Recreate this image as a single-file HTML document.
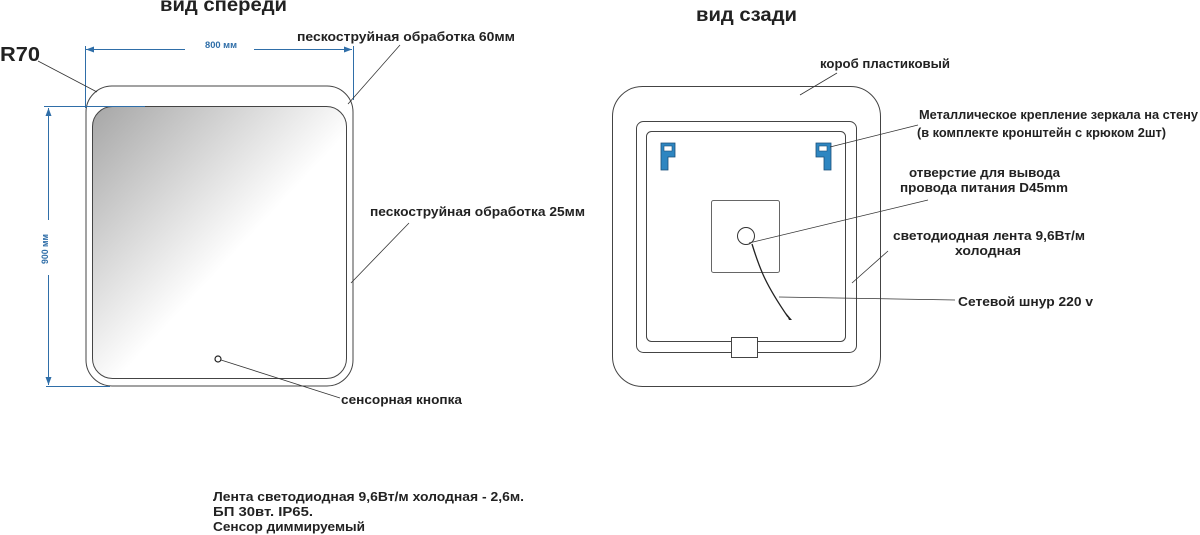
<!DOCTYPE html>
<html><head><meta charset="utf-8"><style>
html,body{margin:0;padding:0;background:#fff;width:1200px;height:535px;overflow:hidden}
svg{display:block}
text{font-family:"Liberation Sans",sans-serif;font-weight:bold;fill:#222}
</style></head><body>
<svg width="1200" height="535" viewBox="0 0 1200 535" xmlns="http://www.w3.org/2000/svg">
<defs>
<linearGradient id="g" x1="0" y1="0" x2="1" y2="1" gradientUnits="objectBoundingBox">
<stop offset="0" stop-color="#a6a6a6"/><stop offset="0.55" stop-color="#fff"/><stop offset="1" stop-color="#fff"/>
</linearGradient>
<marker id="ar" markerWidth="8" markerHeight="6" refX="8" refY="3" orient="auto"><path d="M0,0 L8,3 L0,6 z" fill="#2f6ea8"/></marker>
</defs>
<text x="160" y="11" font-size="19" textLength="127" lengthAdjust="spacingAndGlyphs">вид спереди</text>
<text x="696" y="21" font-size="19" textLength="101" lengthAdjust="spacingAndGlyphs">вид сзади</text>
<text x="0" y="61" font-size="20" textLength="40" lengthAdjust="spacingAndGlyphs">R70</text>

<rect x="86" y="86" width="267" height="300" rx="26" fill="#fff" stroke="#444" stroke-width="1"/>
<rect x="92.5" y="106.5" width="254" height="272" rx="20" fill="url(#g)" stroke="#444" stroke-width="1"/>
<circle cx="218" cy="359" r="3" fill="#fff" stroke="#222" stroke-width="1.2"/>
<g stroke="#2f6ea8" stroke-width="1" fill="none">
<line x1="85.5" y1="46" x2="85.5" y2="108"/>
<line x1="353.5" y1="46" x2="353.5" y2="100"/>
<line x1="86" y1="49.5" x2="185" y2="49.5"/>
<line x1="254" y1="49.5" x2="352" y2="49.5" marker-end="url(#ar)"/>
<line x1="44" y1="106.5" x2="145" y2="106.5"/>
<line x1="46" y1="386.5" x2="110" y2="386.5"/>
<line x1="48.5" y1="220" x2="48.5" y2="108" marker-end="url(#ar)"/>
<line x1="48.5" y1="275" x2="48.5" y2="385" marker-end="url(#ar)"/>
</g>
<path d="M86,49.5 l8,-3 v6z" fill="#2f6ea8"/>
<text x="205" y="48" font-size="9" style="fill:#2f6ea8" textLength="32" lengthAdjust="spacingAndGlyphs">800 мм</text>
<text transform="translate(48,264) rotate(-90)" font-size="9" style="fill:#2f6ea8" textLength="30" lengthAdjust="spacingAndGlyphs">900 мм</text>

<g stroke="#333" stroke-width="0.8">
<line x1="38" y1="61" x2="97" y2="92"/>
<line x1="400" y1="45" x2="348" y2="104"/>
<line x1="409" y1="223" x2="351" y2="283"/>
<line x1="221" y1="360" x2="340" y2="398"/>
</g>
<text x="297" y="41" font-size="13" textLength="218" lengthAdjust="spacingAndGlyphs">пескоструйная обработка 60мм</text>
<text x="370" y="216" font-size="13" textLength="215" lengthAdjust="spacingAndGlyphs">пескоструйная обработка 25мм</text>
<text x="341" y="404" font-size="13" textLength="121" lengthAdjust="spacingAndGlyphs">сенсорная кнопка</text>

<rect x="612.5" y="86.5" width="268" height="300" rx="30" fill="#fff" stroke="#444"/>
<rect x="636.5" y="121.5" width="220" height="231" rx="7" fill="none" stroke="#444"/>
<rect x="646.5" y="131.5" width="199" height="210" rx="5" fill="none" stroke="#444"/>
<rect x="711.5" y="200.5" width="68" height="72" rx="2" fill="#fff" stroke="#666"/>
<circle cx="746" cy="236" r="8.5" fill="#fff" stroke="#333"/>
<rect x="731.5" y="337.5" width="26" height="20" fill="#fff" stroke="#444"/>
<path d="M661,143 h14 v14 h-7 v13 h-7z" fill="#2e86c1" stroke="#1a4f78" stroke-width="0.8"/>
<rect x="664" y="146" width="8" height="5" fill="#fff" stroke="#1a4f78" stroke-width="0.6"/>
<path d="M816,143 h15 v27 h-7 v-13 h-8z" fill="#2e86c1" stroke="#1a4f78" stroke-width="0.8"/>
<rect x="819" y="146" width="8" height="5" fill="#fff" stroke="#1a4f78" stroke-width="0.6"/>
<path d="M752,244 C760,270 766,285 788,317" fill="none" stroke="#222" stroke-width="1.3"/>
<path d="M786,313 l6,7 l-3,0 z" fill="#222"/>
<g stroke="#333" stroke-width="0.8">
<line x1="837" y1="73" x2="800" y2="95"/>
<line x1="918" y1="125" x2="830" y2="147"/>
<line x1="928" y1="200" x2="749" y2="243"/>
<line x1="888" y1="251" x2="852" y2="283"/>
<line x1="955" y1="300" x2="779" y2="297"/>
</g>
<text x="820" y="68" font-size="13" textLength="130" lengthAdjust="spacingAndGlyphs">короб пластиковый</text>
<text x="919" y="119" font-size="13" textLength="279" lengthAdjust="spacingAndGlyphs">Металлическое крепление зеркала на стену</text>
<text x="917" y="137" font-size="13" textLength="249" lengthAdjust="spacingAndGlyphs">(в комплекте кронштейн с крюком 2шт)</text>
<text x="909" y="177" font-size="13" textLength="151" lengthAdjust="spacingAndGlyphs">отверстие для вывода</text>
<text x="900" y="192" font-size="13" textLength="168" lengthAdjust="spacingAndGlyphs">провода питания D45mm</text>
<text x="893" y="240" font-size="13" textLength="192" lengthAdjust="spacingAndGlyphs">светодиодная лента 9,6Вт/м</text>
<text x="955" y="255" font-size="13" textLength="66" lengthAdjust="spacingAndGlyphs">холодная</text>
<text x="958" y="306" font-size="13" textLength="135" lengthAdjust="spacingAndGlyphs">Сетевой шнур 220 v</text>

<text x="213" y="501" font-size="12.5" textLength="311" lengthAdjust="spacingAndGlyphs">Лента светодиодная  9,6Вт/м холодная - 2,6м.</text>
<text x="213" y="516" font-size="12.5" textLength="100" lengthAdjust="spacingAndGlyphs">БП 30вт. IP65.</text>
<text x="213" y="531" font-size="12.5" textLength="152" lengthAdjust="spacingAndGlyphs">Сенсор диммируемый</text>
</svg>
</body></html>
